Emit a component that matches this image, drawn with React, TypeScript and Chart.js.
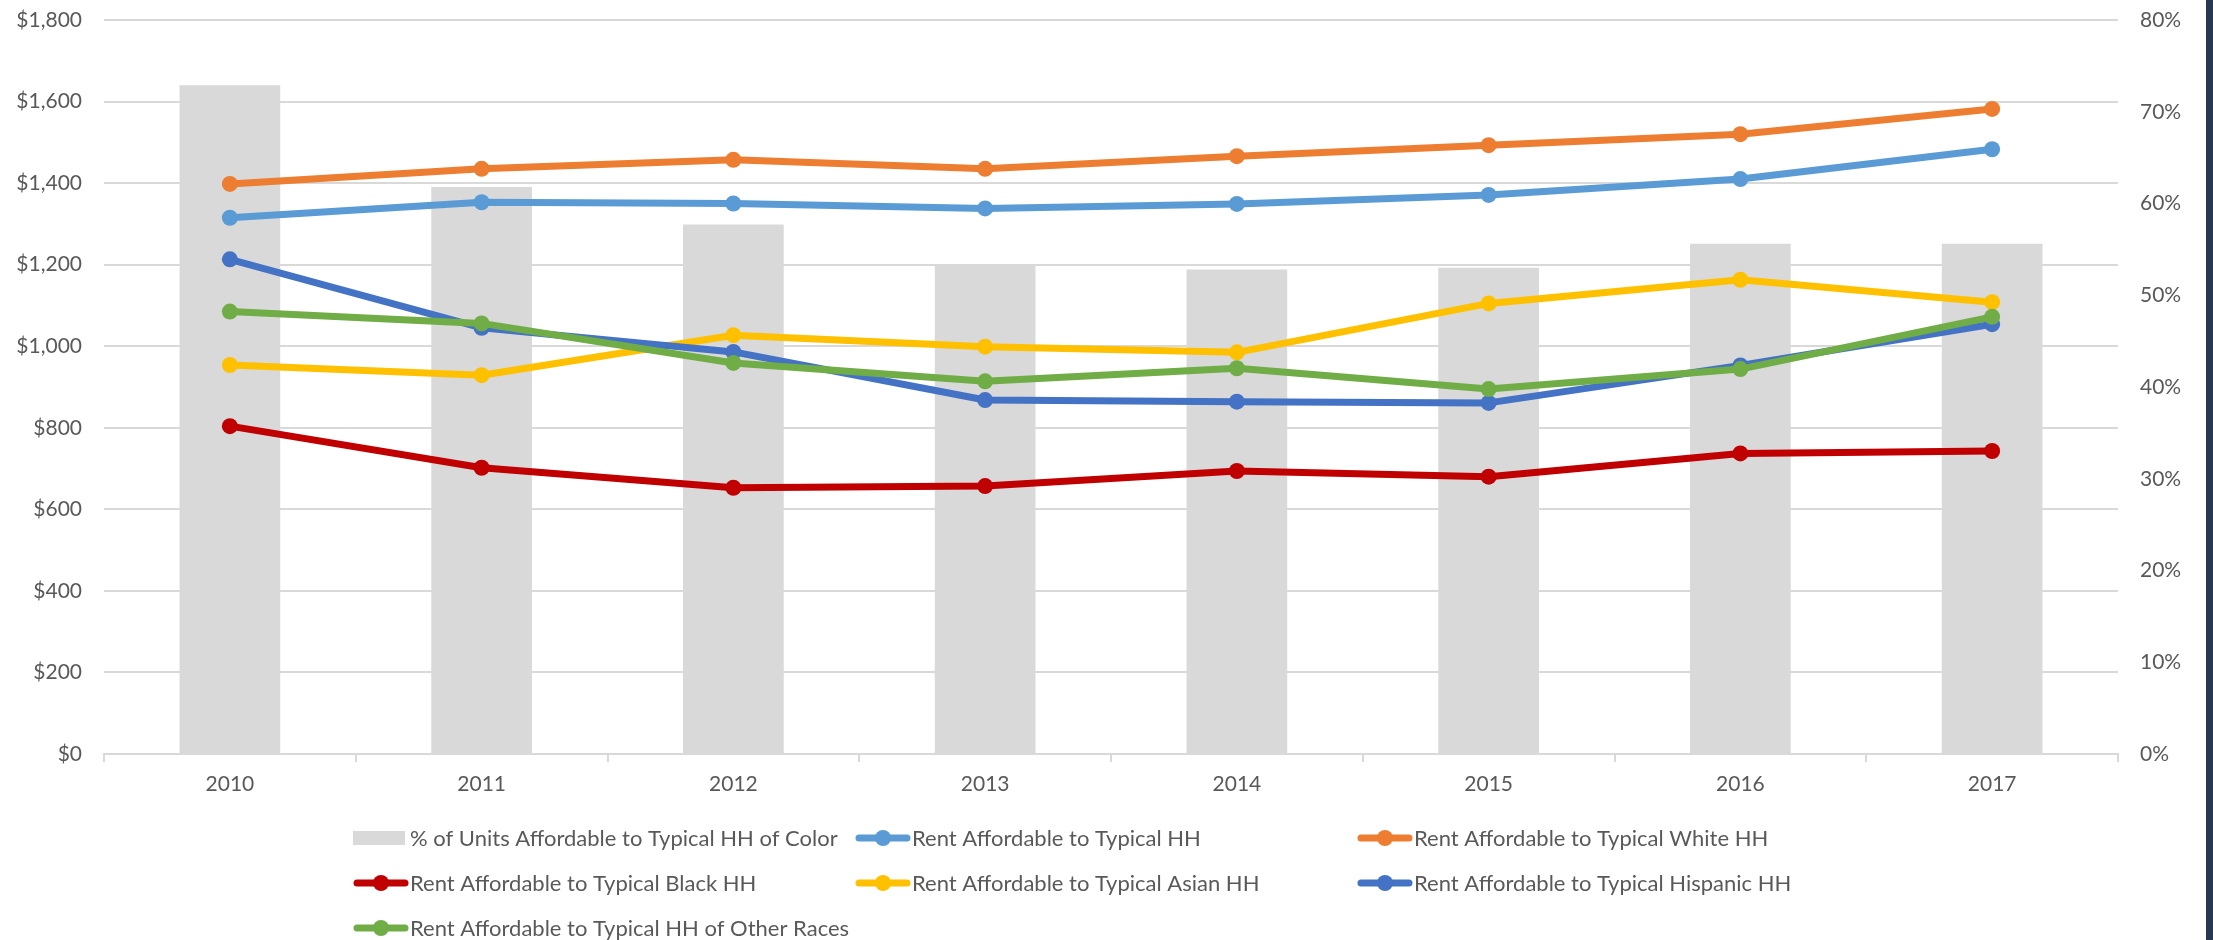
import React, { useEffect, useRef } from 'react';
import { Chart, registerables } from 'chart.js';

Chart.register(...registerables);

// ---- Data ----
const years = ['2010', '2011', '2012', '2013', '2014', '2015', '2016', '2017'];
const pctUnitsAffordable = [72.9, 61.8, 57.7, 53.4, 52.8, 53.0, 55.6, 55.6];
const rentTypical = [1315, 1353, 1350, 1338, 1349, 1371, 1410, 1483];
const rentWhite = [1398, 1435, 1457, 1435, 1466, 1493, 1520, 1582];
const rentBlack = [804, 702, 653, 657, 694, 680, 737, 743];
const rentAsian = [954, 929, 1027, 999, 985, 1105, 1163, 1108];
const rentHispanic = [1213, 1045, 986, 868, 864, 861, 953, 1054];
const rentOther = [1085, 1056, 959, 914, 946, 895, 944, 1072];

const leftAxisMax = 1800;
const leftAxisStep = 200;
const rightAxisMax = 80;
const rightAxisStep = 10;

const legendLabels = [
  '% of Units Affordable to Typical HH of Color',
  'Rent Affordable to Typical HH',
  'Rent Affordable to Typical White HH',
  'Rent Affordable to Typical Black HH',
  'Rent Affordable to Typical Asian HH',
  'Rent Affordable to Typical Hispanic HH',
  'Rent Affordable to Typical HH of Other Races',
];

const COLORS = {
  bar: '#d9d9d9',
  typical: '#5b9bd5',
  white: '#ed7d31',
  black: '#c00000',
  asian: '#ffc000',
  hispanic: '#4472c4',
  other: '#70ad47',
};

const FONT = 'Lato';
const TEXT = '#595959';
const GRID = '#d9d9d9';

const W = 2213;
const H = 940;

const legendPlugin = {
  id: 'excelLegend',
  afterDraw(chart: any) {
    const ctx = chart.ctx as CanvasRenderingContext2D;
    const { left, right } = chart.chartArea;
    const cx = (left + right) / 2;
    const colW = 502;
    const startX = cx - 758;
    const y0 = 838;
    const dy = 45;
    const ds = chart.data.datasets;
    ctx.save();
    ctx.font = `22px ${FONT}`;
    ctx.textBaseline = 'middle';
    ctx.textAlign = 'left';
    for (let i = 0; i < ds.length; i++) {
      const col = i % 3;
      const row = Math.floor(i / 3);
      const x = startX + col * colW;
      const y = y0 + row * dy;
      const d = ds[i];
      if (d.type === 'bar') {
        ctx.fillStyle = d.backgroundColor;
        ctx.fillRect(x, y - 7, 52, 14);
      } else {
        ctx.strokeStyle = d.borderColor;
        ctx.lineWidth = 7;
        ctx.lineCap = 'round';
        ctx.beginPath();
        ctx.moveTo(x + 4, y);
        ctx.lineTo(x + 52, y);
        ctx.stroke();
        ctx.fillStyle = d.borderColor;
        ctx.beginPath();
        ctx.arc(x + 28, y, 8, 0, Math.PI * 2);
        ctx.fill();
      }
      ctx.fillStyle = TEXT;
      ctx.fillText(d.label, x + 57, y + 1);
    }
    ctx.restore();
  },
};

function lineDs(label: string, data: number[], color: string, order: number) {
  return {
    type: 'line' as const,
    label,
    data,
    yAxisID: 'y',
    borderColor: color,
    backgroundColor: color,
    borderWidth: 7,
    borderJoinStyle: 'round' as const,
    borderCapStyle: 'round' as const,
    tension: 0,
    pointRadius: 8,
    pointHoverRadius: 8,
    pointBackgroundColor: color,
    pointBorderColor: color,
    pointBorderWidth: 0,
    fill: false,
    order,
  };
}

export default function App() {
  const ref = useRef<HTMLCanvasElement | null>(null);

  useEffect(() => {
    if (!ref.current) return;
    const chart = new Chart(ref.current, {
      data: {
        labels: years,
        datasets: [
          {
            type: 'bar',
            label: legendLabels[0],
            data: pctUnitsAffordable,
            yAxisID: 'y1',
            backgroundColor: COLORS.bar,
            borderWidth: 0,
            barPercentage: 0.4,
            categoryPercentage: 1,
            order: 10,
          } as any,
          lineDs(legendLabels[1], rentTypical, COLORS.typical, 6),
          lineDs(legendLabels[2], rentWhite, COLORS.white, 5),
          lineDs(legendLabels[3], rentBlack, COLORS.black, 4),
          lineDs(legendLabels[4], rentAsian, COLORS.asian, 3),
          lineDs(legendLabels[5], rentHispanic, COLORS.hispanic, 2),
          lineDs(legendLabels[6], rentOther, COLORS.other, 1),
        ],
      },
      options: {
        responsive: false,
        animation: false,
        events: [],
        layout: { padding: { top: 20, bottom: 0, left: 0, right: 0 } },
        plugins: {
          legend: { display: false },
          tooltip: { enabled: false },
        },
        scales: {
          x: {
            type: 'category',
            offset: true,
            grid: {
              offset: true,
              drawOnChartArea: false,
              drawTicks: true,
              tickLength: 8,
              color: GRID,
              lineWidth: 2,
            },
            border: { display: true, color: GRID, width: 2 },
            ticks: {
              color: TEXT,
              font: { family: FONT, size: 21 },
              padding: 10,
              maxRotation: 0,
            },
            afterFit(scale: any) {
              scale.height = H - 754;
            },
          },
          y: {
            type: 'linear',
            position: 'left',
            min: 0,
            max: leftAxisMax,
            ticks: {
              stepSize: leftAxisStep,
              color: TEXT,
              font: { family: FONT, size: 21 },
              padding: 22,
              callback: (v: any) => '$' + Number(v).toLocaleString('en-US'),
            },
            grid: { color: GRID, lineWidth: 2, drawTicks: false },
            border: { display: false },
            afterFit(scale: any) {
              scale.width = 104;
              scale.paddingTop = 0;
              scale.paddingBottom = 0;
            },
          },
          y1: {
            type: 'linear',
            position: 'right',
            min: 0,
            max: rightAxisMax,
            ticks: {
              stepSize: rightAxisStep,
              color: TEXT,
              font: { family: FONT, size: 21 },
              padding: 22,
              callback: (v: any) => `${v}%`,
            },
            grid: { drawOnChartArea: false, drawTicks: false },
            border: { display: false },
            afterFit(scale: any) {
              scale.width = 88;
              scale.paddingTop = 0;
              scale.paddingBottom = 0;
            },
          },
        },
      },
      plugins: [legendPlugin],
    } as any);
    return () => chart.destroy();
  }, []);

  return (
    <div style={{ position: 'absolute', left: 0, top: 0, width: W, height: H, background: '#fff' }}>
      <canvas ref={ref} width={W - 7} height={H} style={{ position: 'absolute', left: 0, top: 0 }} />
      <div style={{ position: 'absolute', left: W - 7, top: 0, width: 7, height: H, background: '#283850' }} />
    </div>
  );
}
